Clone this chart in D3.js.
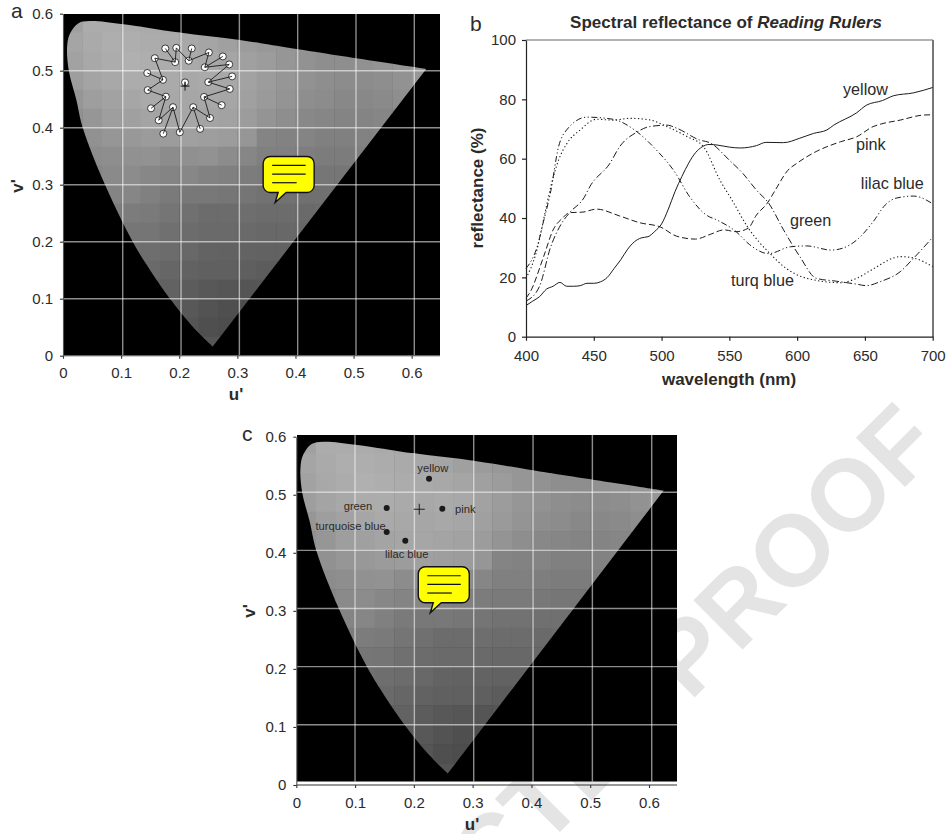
<!DOCTYPE html>
<html>
<head>
<meta charset="utf-8">
<script src="https://cdnjs.cloudflare.com/ajax/libs/d3/7.8.5/d3.min.js"></script>
<style>
  html, body { margin: 0; padding: 0; background: #fff; }
  text { font-family: "Liberation Sans", Arial, sans-serif; fill: #2b2b2b; }
</style>
</head>
<body>
<div id="chart"></div>
<script>
// chromaticity diagram values
var uTicks = [0, 0.1, 0.2, 0.3, 0.4, 0.5, 0.6];
var vTicks = [0, 0.1, 0.2, 0.3, 0.4, 0.5, 0.6];
var gridU = [0.1, 0.2, 0.3, 0.4, 0.5, 0.6];
var gridV = [0.1, 0.2, 0.3, 0.4, 0.5];

// outline of the gamut [u', v']
var locus = [[0.2577,0.016],[0.224,0.05],[0.184,0.1],[0.15,0.15],[0.12,0.2],[0.0723,0.3],[0.034,0.4],[0.0227,0.45],
  [0.01,0.5],[0.007,0.541],[0.0115,0.564],[0.026,0.583],[0.046,0.587],[0.1,0.582],[0.2,0.567],[0.304,0.554],[0.4015,0.538],[0.625,0.503]];

// grey level of each block, top row first, cell size 1/30
var cellSize = 1 / 30;
var greys = [
  [160,172,172,172,170,168,165,162,158,155,150,148,146,145,145,145,145,145,145,145],
  [165,170,174,174,172,170,168,165,160,155,152,150,148,146,145,146,148,148,148,148],
  [162,168,172,176,174,172,170,168,165,160,156,150,146,142,142,145,148,150,152,152],
  [158,164,168,172,172,170,168,170,168,162,156,150,146,142,140,140,142,146,150,150],
  [150,158,162,166,170,168,166,168,166,160,154,148,142,140,136,136,138,142,146,146],
  [145,150,158,160,164,166,166,164,162,156,148,142,136,134,132,132,134,136,140,140],
  [140,145,150,152,155,156,160,158,156,150,132,130,132,128,128,130,132,134,136,136],
  [135,140,142,145,146,140,144,146,140,134,128,128,126,124,124,126,128,130,130,130],
  [130,134,138,140,135,132,135,130,128,124,122,122,120,118,118,120,122,124,124,124],
  [125,128,132,134,128,122,120,120,118,116,114,114,112,112,114,116,118,118,118,118],
  [120,122,124,124,122,116,112,108,108,110,108,108,106,108,110,112,112,112,112,112],
  [116,116,118,118,116,112,108,106,106,106,104,104,104,106,108,108,108,108,108,108],
  [110,110,112,112,110,108,104,100,98,100,98,98,100,104,104,104,104,104,104,104],
  [106,106,108,108,106,102,98,96,96,94,92,94,96,98,100,100,100,100,100,100],
  [100,100,102,102,100,98,92,88,86,84,86,90,94,96,96,96,96,96,96,96],
  [96,96,96,96,96,92,88,82,80,78,80,84,88,90,90,90,90,90,90,90],
  [90,90,90,90,90,88,84,80,78,82,84,86,88,88,88,88,88,88,88,88],
  [88,88,88,88,88,86,84,84,86,88,88,88,88,88,88,88,88,88,88,88]
];

// panel a: adaptation points
var outerU = [0.176,0.195,0.2215,0.251,0.275,0.286,0.291,0.287,0.273,0.253,0.236,0.201,0.1726,0.1647,0.1515,0.1457,0.145,0.158];
var outerV = [0.539,0.54,0.539,0.532,0.525,0.511,0.49,0.468,0.4395,0.417,0.398,0.392,0.3895,0.413,0.434,0.466,0.496,0.522];
var innerU = [0.193,0.2163,0.244,0.25,0.2427,0.224,0.1893,0.177,0.172];
var innerV = [0.515,0.5175,0.506,0.48,0.454,0.436,0.436,0.4545,0.484];
// which inner point each outer point is tied to
var links = [[0,0],[1,0],[1,1],[2,1],[3,1],[3,2],[4,2],[5,2],[5,3],[6,3],[7,3],[7,4],[8,4],[9,4],[9,5],[10,5],[11,5],[11,6],[12,6],[13,6],[13,7],[14,7],[15,7],[15,8],[16,8],[17,8],[17,0]];
var centreA = [0.21, 0.4795];
var whiteA = [0.21, 0.473];

// panel c: ruler colours
var rulerNames = ["yellow", "green", "pink", "turquoise blue", "lilac blue"];
var rulerU = [0.2258, 0.1538, 0.2484, 0.1538, 0.1854];
var rulerV = [0.5276, 0.477, 0.476, 0.4358, 0.4208];
var whiteC = [0.2092, 0.475];

// panel b: spectral reflectance
var wlTicks = [400, 450, 500, 550, 600, 650, 700];
var refTicks = [0, 20, 40, 60, 80, 100];
var yellowNm = [400,405,410,415,420,425,430,435,440,445,450,455,460,465,470,475,480,485,490,495,500,505,510,515,520,525,530,535,541,550,558,570,577,590,602,612,622,627,644,651,663,671,686,700];
var yellow = [10.5,12,13.5,16,17,18.3,17,17,17.2,18,18,18.5,20,23,26,29.5,32,33.3,33.7,35.5,38,43,49,54,58.5,62,64,64.8,64.6,63.9,63.6,64.4,65.5,65.4,66.9,68.5,69.7,71.3,75.5,78,79.6,81.2,82.2,84];
var pinkNm = [400,403,413,420,427,432,442,452,469,484,499,511,525,536,546,555,564,570,578,584,593,600,614,632,644,656,662,676,693,700];
var pink = [13,15,27,36,40,41.8,42,43,40.7,38.4,37,33.9,32.9,34.5,36,35.4,36.6,41,45,49.5,56,58.5,62.4,65.7,67.4,70.8,71.7,73,74.7,74.8];
var greenNm = [400,410,418,426,432,443,447,462,469,482,491,504,511,528,536,550,560,570,579,590,602,614,629,644,651,661,676,686,700];
var green = [12,17,30,38,41.7,47,50.5,58.5,64,69,70.8,71.3,70.3,66.3,65.3,59.5,55,49.4,45,36,27,19.7,18.7,17.7,17.2,18.5,21.9,26.5,33.5];
var lilacNm = [400,408,413,418,424,430,445,464,482,496,509,521,533,541,555,565,579,595,607,625,634,645,656,665,673,686,700];
var lilac = [23,30,39,48.4,64,69.7,74,73.3,69,63,56,47,41,39.3,35.4,31,28,30.3,30.6,29.2,29.9,33,38.7,44.4,46.7,47.4,44.8];
var turqNm = [400,407,415,418,424,430,440,452,464,477,492,504,519,531,543,552,564,580,592,607,632,644,656,671,676,686,700];
var turq = [19.7,27.5,43.8,50,59.5,65,69.7,73.3,73,73.6,73,70.8,67.4,64,52.8,46,36.6,28,23,19.7,18.2,19.7,22.8,26.5,27,26.5,23.6];

var svg = d3.select("#chart").append("svg")
  .attr("width", 950)
  .attr("height", 834)
  .style("display", "block");

// watermark sits under everything
svg.append("text")
  .attr("text-anchor", "end")
  .attr("transform", "translate(944,448) rotate(-45)")
  .style("font-size", "101px")
  .style("font-weight", "bold")
  .style("fill", "#e4e4e4")
  .text("PROOF");
svg.append("text")
  .attr("text-anchor", "end")
  .attr("transform", "translate(686,706) rotate(-45)")
  .style("font-size", "101px")
  .style("font-weight", "bold")
  .style("fill", "#e4e4e4")
  .text("UNCORRECTED");

var defs = svg.append("defs");
defs.append("filter").attr("id", "soft")
  .attr("x", "-5%").attr("y", "-5%").attr("width", "110%").attr("height", "110%")
  .append("feGaussianBlur").attr("stdDeviation", 0.55);

function fmtTick(d) { return d === 0 ? "0" : d.toFixed(1); }

function speechBubble(g, x0, y0) {
  var b = g.append("g").attr("transform", "translate(" + x0 + "," + y0 + ")");
  b.append("path")
    .attr("d", "M7,0H44a7,7 0 0 1 7,7V29a7,7 0 0 1 -7,7H23L12,46L15,36H7a7,7 0 0 1 -7,-7V7a7,7 0 0 1 7,-7Z")
    .attr("fill", "#ffff00")
    .attr("stroke", "#111")
    .attr("stroke-width", 1.4);
  [[9, 42.5, 9], [9, 42.5, 17.6], [9, 33.5, 26.3]].forEach(function(l) {
    b.append("line").attr("x1", l[0]).attr("x2", l[1]).attr("y1", l[2]).attr("y2", l[2])
      .attr("stroke", "#111").attr("stroke-width", 1.2);
  });
}

// shared drawing of the u'v' diagram, o holds the pixel frame of one panel
function diagram(name, o) {
  var x = d3.scaleLinear().domain([0, 0.6]).range([o.x0, o.x6]);
  var y = d3.scaleLinear().domain([0, 0.6]).range([o.y0, o.y6]);
  var imgY = d3.scaleLinear().domain([0, 0.6]).range([o.imgY0, o.imgY6]);
  var lineX = d3.scaleLinear().domain([0, 0.6]).range([o.gridX0, o.gridX6]);

  var g = svg.append("g").attr("class", "panel-" + name);
  var clipId = "gamut-" + name;
  defs.append("clipPath").attr("id", clipId)
    .append("path")
    .attr("d", d3.line()
      .x(function(d) { return x(d[0]); })
      .y(function(d) { return imgY(d[1]); })
      .curve(d3.curveCatmullRom.alpha(0.5))(locus) + "Z");

  var img = g.append("g").attr("filter", "url(#soft)");
  img.append("rect")
    .attr("x", o.left).attr("y", o.top)
    .attr("width", o.right - o.left).attr("height", o.bottom - o.top)
    .attr("fill", "#000");

  var cells = img.append("g").attr("clip-path", "url(#" + clipId + ")");
  greys.forEach(function(row, r) {
    row.forEach(function(grey, c) {
      cells.append("rect")
        .attr("x", x(c * cellSize))
        .attr("y", imgY(0.6 - r * cellSize))
        .attr("width", x((c + 1) * cellSize) - x(c * cellSize) + 0.5)
        .attr("height", imgY(0.6 - (r + 1) * cellSize) - imgY(0.6 - r * cellSize) + 0.5)
        .attr("fill", d3.rgb(grey, grey, grey));
    });
  });

  img.selectAll(".gu").data(gridU).enter().append("line")
    .attr("x1", function(d) { return lineX(d); }).attr("x2", function(d) { return lineX(d); })
    .attr("y1", o.top).attr("y2", o.bottom)
    .attr("stroke", "#fff").attr("stroke-opacity", 0.55).attr("stroke-width", 1.4);
  img.selectAll(".gv").data(gridV).enter().append("line")
    .attr("x1", o.left).attr("x2", o.right)
    .attr("y1", function(d) { return imgY(d); }).attr("y2", function(d) { return imgY(d); })
    .attr("stroke", "#fff").attr("stroke-opacity", 0.55).attr("stroke-width", 1.4);

  var xAxis = g.append("g")
    .attr("transform", "translate(0," + o.y0 + ")")
    .call(d3.axisBottom(x).tickValues(uTicks).tickFormat(fmtTick).tickSize(3).tickPadding(9).tickSizeOuter(0));
  xAxis.select(".domain").attr("d", "M" + o.x0 + ",0H" + o.right);
  var yAxis = g.append("g")
    .attr("transform", "translate(" + o.x0 + ",0)")
    .call(d3.axisLeft(y).tickValues(vTicks).tickFormat(fmtTick).tickSize(3).tickPadding(7).tickSizeOuter(0));
  g.selectAll(".tick text").style("font-size", "15px").attr("fill", null);
  g.selectAll(".tick line, .domain").attr("stroke", "#333").attr("stroke-width", 1.1);
  yAxis.select(".domain").attr("stroke", "#555");

  g.append("text")
    .attr("x", o.uX).attr("y", o.uY)
    .attr("text-anchor", "middle")
    .style("font-size", "17px").style("font-weight", "bold")
    .text("u'");
  g.append("text")
    .attr("transform", "translate(" + o.vX + "," + o.vY + ") rotate(-90)")
    .attr("text-anchor", "middle")
    .style("font-size", "17px").style("font-weight", "bold")
    .text("v'");
  g.append("text")
    .attr("x", o.tagX).attr("y", o.tagY)
    .style("font-size", "21px")
    .text(name);

  speechBubble(g, x(o.bubble[0]), y(o.bubble[1]));
  return { g: g, x: x, y: y };
}

function plusMark(g, px, py, size, w) {
  g.append("line").attr("x1", px - size).attr("x2", px + size).attr("y1", py).attr("y2", py)
    .attr("stroke", "#111").attr("stroke-width", w);
  g.append("line").attr("x1", px).attr("x2", px).attr("y1", py - size).attr("y2", py + size)
    .attr("stroke", "#111").attr("stroke-width", w);
}

// panel a
var a = diagram("a", {
  x0: 63, x6: 411.7, y0: 355.7, y6: 13.7,
  imgY0: 355.7, imgY6: 13.7, gridX0: 64.4, gridX6: 414.3,
  left: 63.5, right: 440, top: 14, bottom: 355,
  uX: 236, uY: 400, vX: 23, vY: 186, tagX: 11, tagY: 18,
  bubble: [0.3444, 0.3496]
});

outerU.forEach(function(u, i) {
  a.g.append("circle")
    .attr("cx", a.x(u)).attr("cy", a.y(outerV[i])).attr("r", 3.5)
    .attr("fill", "#fff").attr("stroke", "#111").attr("stroke-width", 0.8);
});
innerU.forEach(function(u, i) {
  a.g.append("circle")
    .attr("cx", a.x(u)).attr("cy", a.y(innerV[i])).attr("r", 3.5)
    .attr("fill", "#fff").attr("stroke", "#111").attr("stroke-width", 0.8);
});
a.g.append("circle")
  .attr("cx", a.x(centreA[0])).attr("cy", a.y(centreA[1])).attr("r", 3.5)
  .attr("fill", "#fff").attr("stroke", "#111").attr("stroke-width", 0.8);
links.forEach(function(l) {
  a.g.append("line")
    .attr("x1", a.x(outerU[l[0]])).attr("y1", a.y(outerV[l[0]]))
    .attr("x2", a.x(innerU[l[1]])).attr("y2", a.y(innerV[l[1]]))
    .attr("stroke", "#1a1a1a").attr("stroke-width", 0.9);
});
a.g.append("line")
  .attr("x1", a.x(centreA[0])).attr("x2", a.x(centreA[0]))
  .attr("y1", a.y(centreA[1])).attr("y2", a.y(whiteA[1]))
  .attr("stroke", "#111").attr("stroke-width", 1);
plusMark(a.g, a.x(whiteA[0]), a.y(whiteA[1]), 4.5, 1);

// panel c
var c = diagram("c", {
  x0: 296.3, x6: 649, y0: 785, y6: 436.7,
  imgY0: 782.8, imgY6: 434.2, gridX0: 295.7, gridX6: 651.7,
  left: 297, right: 677, top: 435, bottom: 781.5,
  uX: 472, uY: 830, vX: 255, vY: 611, tagX: 242, tagY: 441,
  bubble: [0.2075, 0.376]
});

var labelAt = {
  "yellow": [-11.7, -7, "start"],
  "green": [-14.4, 2, "end"],
  "pink": [12.7, 4.6, "start"],
  "turquoise blue": [-1, -2, "end"],
  "lilac blue": [-20.3, 17.6, "start"]
};
rulerNames.forEach(function(name, i) {
  c.g.append("circle")
    .attr("cx", c.x(rulerU[i])).attr("cy", c.y(rulerV[i])).attr("r", 3)
    .attr("fill", "#1a1a1a");
  c.g.append("text")
    .attr("x", c.x(rulerU[i]) + labelAt[name][0])
    .attr("y", c.y(rulerV[i]) + labelAt[name][1])
    .attr("text-anchor", labelAt[name][2])
    .style("font-size", "11.2px")
    .text(name);
});
plusMark(c.g, c.x(whiteC[0]), c.y(whiteC[1]), 5.5, 0.9);

// panel b
var bx = d3.scaleLinear().domain([400, 700]).range([526, 932.7]);
var by = d3.scaleLinear().domain([0, 100]).range([336.7, 40]);
var b = svg.append("g").attr("class", "panel-b");

b.append("line").attr("x1", 526).attr("x2", 933).attr("y1", 40).attr("y2", 40)
  .attr("stroke", "#666").attr("stroke-width", 1.2);
b.append("line").attr("x1", 933).attr("x2", 933).attr("y1", 40).attr("y2", 337)
  .attr("stroke", "#777").attr("stroke-width", 2);

var bottomAxis = b.append("g")
  .attr("transform", "translate(0,336.7)")
  .call(d3.axisBottom(bx).tickValues(wlTicks).tickSize(4).tickPadding(10).tickSizeOuter(0));
var leftAxis = b.append("g")
  .attr("transform", "translate(526,0)")
  .call(d3.axisLeft(by).tickValues(refTicks).tickSize(4).tickPadding(6).tickSizeOuter(0));
b.selectAll(".tick text").style("font-size", "15px").attr("fill", null);
b.selectAll(".tick line, .domain").attr("stroke", "#222").attr("stroke-width", 1.2);

var specLine = d3.line()
  .x(function(d) { return bx(d[0]); })
  .y(function(d) { return by(d[1]); })
  .curve(d3.curveMonotoneX);

function spectrum(nm, vals, dash, w) {
  b.append("path")
    .datum(d3.zip(nm, vals))
    .attr("fill", "none")
    .attr("stroke", "#1c1c1c")
    .attr("stroke-width", w)
    .attr("stroke-dasharray", dash)
    .attr("d", specLine);
}
spectrum(yellowNm, yellow, null, 1);
spectrum(pinkNm, pink, "6,3", 1);
spectrum(greenNm, green, "7,2.5,1.2,2.5", 1);
spectrum(lilacNm, lilac, "6,2.5,1.2,2.5,1.2,2.5", 1);
spectrum(turqNm, turq, "1.3,2.4", 1.1);

var curveLabels = ["yellow", "pink", "lilac blue", "green", "turq blue"];
var curveLabelNm = [633.8, 643.4, 647, 594.7, 551.2];
var curveLabelRef = [81.5, 62.9, 49.8, 37.2, 17.2];
curveLabels.forEach(function(t, i) {
  b.append("text")
    .attr("x", bx(curveLabelNm[i])).attr("y", by(curveLabelRef[i]))
    .style("font-size", "16.2px")
    .text(t);
});

var title = b.append("text")
  .attr("x", 726).attr("y", 28)
  .attr("text-anchor", "middle")
  .style("font-size", "17px")
  .style("font-weight", "bold");
title.append("tspan").text("Spectral reflectance of ");
title.append("tspan").style("font-style", "italic").text("Reading Rulers");

b.append("text")
  .attr("x", 729).attr("y", 385)
  .attr("text-anchor", "middle")
  .style("font-size", "17px").style("font-weight", "bold")
  .text("wavelength (nm)");
b.append("text")
  .attr("transform", "translate(482.5,188) rotate(-90)")
  .attr("text-anchor", "middle")
  .style("font-size", "17px").style("font-weight", "bold")
  .text("reflectance (%)");
b.append("text")
  .attr("x", 470).attr("y", 31)
  .style("font-size", "21px")
  .text("b");
</script>
</body>
</html>
